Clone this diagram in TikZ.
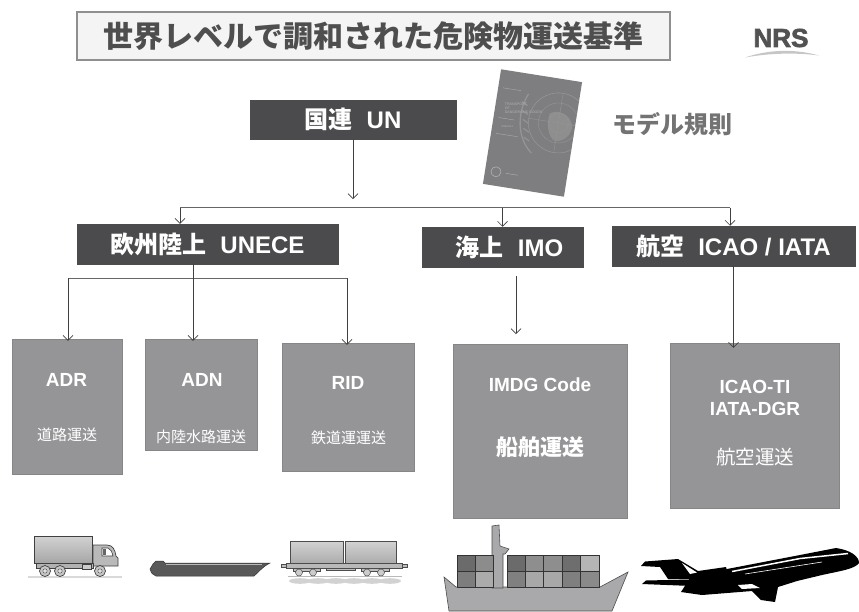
\documentclass[tikz,border=0pt]{standalone}
\usepackage{fontspec}
\setmainfont{Liberation Sans}
\newfontfamily\jp{Noto Sans CJK JP}
\newfontfamily\logofont{Liberation Sans}[BoldFeatures={FakeBold=2.5}]
\usetikzlibrary{arrows.meta,calc}

\definecolor{headfill}{HTML}{4B4B4D}
\definecolor{subfill}{HTML}{959598}
\definecolor{inkgray}{HTML}{4E4E4E}
\definecolor{titlefill}{HTML}{F4F4F4}
\definecolor{titleline}{HTML}{8F8F8F}
\definecolor{bookgray}{HTML}{7E7E80}
\definecolor{shipgray}{HTML}{A9A9AB}

\tikzset{
  headbox/.style={draw=black!70, fill=headfill, text=white, line width=0.5pt,
    font=\bfseries\fontsize{24}{24}\selectfont, inner sep=0pt},
  subbox/.style={fill=subfill, draw=subfill!90!black, line width=0.3pt, inner sep=0pt},
  code/.style={text=white, font=\bfseries\fontsize{19}{22}\selectfont, align=center},
  mode/.style={text=white, font=\jp\fontsize{15}{15}\selectfont},
  arr/.style={draw=black!75, line width=0.7pt, -{Straight Barb[length=5pt,width=10pt]}},
  bus/.style={draw=black!60, line width=1.1pt},
  faint/.style={draw=bookgray!82!white}
}

\begin{document}
\begin{tikzpicture}[x=1pt,y=-1pt]
\useasboundingbox (0,0) rectangle (859,611);

% ---- title and logo ----
\node[draw=titleline, fill=titlefill, line width=1.2pt, minimum width=593pt, minimum height=48pt,
      text=inkgray, font=\jp\bfseries\fontsize{30}{30}\selectfont] (title) at (373.5,36)
      {世界レベルで調和された危険物運送基準};
\node[text=black!68, font=\logofont\bfseries\fontsize{26}{26}\selectfont] (nrs) at (781,38) {NRS};
\fill[gray!45] (745,57.5) .. controls (770,49) and (796,49) .. (819,55.5)
      .. controls (796,52.5) and (770,53) .. (745,57.5) -- cycle;

% ---- UN model regulations booklet ----
\begin{scope}[shift={(532.5,133)}, rotate=-9]
  \fill[bookgray] (-41,-58) rectangle (41,58);
  \begin{scope}
    \clip (-41,-58) rectangle (41,58);
    \fill[bookgray!88!white] (14,-22) .. controls (22,-28) and (34,-24) .. (38,-14)
        .. controls (40,-4) and (30,6) .. (22,4) .. controls (16,0) and (12,-10) .. (14,-22) -- cycle;
    \draw[faint, line width=0.6pt] (24,-14) circle (30);
    \draw[faint, line width=0.4pt] (24,-14) circle (20) (24,-14) circle (10);
    \draw[faint, line width=0.4pt] (-6,-14) -- (54,-14) (24,-44) -- (24,16);
    \draw[faint, line width=1.3pt] (-10,-38) .. controls (-18,-20) and (-16,6) .. (2,20);
    \foreach \t in {0.15,0.3,0.45,0.6,0.75}
      \draw[faint, line width=1.1pt] ($(-10,-38)!\t!(2,20)$) ++(-7,0) -- ++(6,3);
  \end{scope}
  \node[text=bookgray!60!white, font=\fontsize{3.6}{3.8}\selectfont, align=left, anchor=north west]
     (booktitle) at (-36,-28) {TRANSPORT\\OF\\DANGEROUS GOODS};
  \node[text=bookgray!60!white, font=\fontsize{3}{3}\selectfont, anchor=north west] (bookvol) at (-36,-6) {Volume I};
  \draw[bookgray!65!white, line width=0.4pt] (-36,-40) -- (-18,-40) (-36,-10) -- (-20,-10) (-36,6) -- (-14,6);
  \draw[bookgray!60!white, line width=0.6pt] (-30,44) circle (5);
  \draw[bookgray!65!white, line width=0.5pt] (-20,44) -- (-8,44);
\end{scope}
\node[text=black!55, font=\jp\bfseries\fontsize{24}{24}\selectfont] (model) at (672.5,124) {モデル規則};

% ---- organisation boxes ----
\node[headbox, minimum width=206pt, minimum height=39pt] (un) at (353,119.5)
  {{\jp 国連}\hspace{14pt}UN};
\node[headbox, minimum width=261pt, minimum height=40pt] (unece) at (207.5,244)
  {{\jp 欧州陸上}\hspace{14pt}UNECE};
\node[headbox, minimum width=161pt, minimum height=40pt] (imo) at (502.5,247)
  {\hspace{14pt}{\jp 海上}\hspace{14pt}IMO};
\node[headbox, minimum width=243pt, minimum height=40pt] (icao) at (733.5,246)
  {{\jp 航空}\hspace{14pt}ICAO / IATA};

% ---- regulation boxes ----
\node[subbox, minimum width=110pt, minimum height=135pt] (adr) at (67,406.5) {};
\node[subbox, minimum width=112pt, minimum height=111pt] (adn) at (201,394.5) {};
\node[subbox, minimum width=132pt, minimum height=128pt] (rid) at (348,407) {};
\node[subbox, minimum width=174pt, minimum height=174pt] (imdg) at (540,431) {};
\node[subbox, minimum width=169pt, minimum height=165pt] (icaoti) at (754.5,425.5) {};

\node[code] (adrT) at (66.5,380) {ADR};
\node[mode] (adrS) at (67,435) {道路運送};
\node[code] (adnT) at (202,380) {ADN};
\node[mode] (adnS) at (201,437) {内陸水路運送};
\node[code] (ridT) at (348,383) {RID};
\node[mode] (ridS) at (348.5,438) {鉄道運運送};
\node[code] (imdgT) at (540,385) {IMDG Code};
\node[mode, font=\jp\bfseries\fontsize{22}{22}\selectfont] (imdgS) at (540,447) {船舶運送};
\node[code] (icaotiT) at (755,397.5) {ICAO-TI\\IATA-DGR};
\node[mode, font=\jp\fontsize{19.5}{19.5}\selectfont] (icaotiS) at (755,457) {航空運送};

% ---- connectors ----
\coordinate (unTip) at (un.south |- 0,199);
\coordinate (busL) at (180,207.5);
\coordinate (busR) at (730,207.5);
\coordinate (busImo) at (502.5,207.5);
\draw[arr] (un.south) -- (unTip);
\draw[bus] (busL) -- (busR);
\draw[arr] (busL) -- (unece.north -| busL);
\draw[arr] (busImo) -- (imo.north);
\draw[arr] (busR) -- (icao.north -| busR);

\coordinate (landL) at (68,278);
\coordinate (landR) at (347,278);
\coordinate (landMid) at (193,264);
\draw[bus, line width=0.9pt] (landL) -- (landR);
\draw[arr] (landL) -- ([yshift=-2pt]adr.north -| landL);
\draw[arr] (unece.south -| landMid) -- ([yshift=-2pt]adn.north -| landMid);
\draw[arr] (landR) -- ([yshift=-2pt]rid.north -| landR);

\coordinate (seaA) at (516,276);
\coordinate (seaB) at (516,334);
\draw[arr] (seaA) -- (seaB);
\draw[arr] (icao.south) -- ([yshift=-5pt]icaoti.north -| icao.south);

% ---- truck ----
\shade[top color=gray!35, bottom color=gray!70, draw=black!75, line width=0.7pt] (34,536) rectangle (92,563);
\filldraw[fill=gray!55, draw=black!75, line width=0.7pt] (93,566) -- (93,545) -- (107,545)
   .. controls (113,545) and (115,550) .. (116,556) -- (118,558) -- (118,566) -- cycle;
\filldraw[fill=white, draw=black!75, line width=0.6pt] (102,548) -- (108,548)
   .. controls (111,549) and (112,552) .. (113,556) -- (102,556) -- cycle;
\fill[black!60] (103,549) rectangle (106,555);
\filldraw[fill=gray!60, draw=black!75, line width=0.6pt] (36,563) rectangle (93,568);
\filldraw[fill=gray!40, draw=black!75, line width=0.5pt] (82,564) rectangle (91,569);
\fill[gray!30] (28,575.5) rectangle (122,578);
\foreach \wx in {45,60,100} {
  \filldraw[fill=gray!45, draw=black!75, line width=0.7pt] (\wx,571) circle (5.5);
  \filldraw[fill=gray!25, draw=black!70, line width=0.4pt] (\wx,571) circle (2.2);
}

% ---- barge ----
\filldraw[fill=black!65, draw=black!80, line width=0.5pt] (150,569) -- (153,564) -- (156,561)
   -- (163,561) -- (165,563) -- (270,563) .. controls (262,567) and (258,573) .. (254,576)
   -- (156,576) .. controls (152,574) and (150,572) .. (150,569) -- cycle;
\draw[gray!55, line width=0.5pt] (166,564.5) -- (262,564.5);

% ---- rail wagon ----
\foreach \i in {0,...,5}
  \fill[gray!35] (300+\i*18,581) ellipse (11 and 2.8);
\draw[gray!55, line width=1.5pt] (288,576.5) -- (402,576.5);
\shade[top color=gray!35, bottom color=gray!65, draw=black!70, line width=0.6pt] (290,541) rectangle (343,563);
\shade[top color=gray!35, bottom color=gray!65, draw=black!70, line width=0.6pt] (345,541) rectangle (396,563);
\filldraw[fill=gray!55, draw=black!70, line width=0.6pt] (286,563) rectangle (402,568);
\filldraw[fill=gray!50, draw=black!70, line width=0.4pt] (281,564) rectangle (286,567) (402,564) rectangle (407,567);
\filldraw[fill=gray!50, draw=black!70, line width=0.4pt] (293,568) rectangle (320,571.5) (361,568) rectangle (389,571.5) (326,568) rectangle (355,570.5);
\foreach \wx in {299,313,367,381}
  \filldraw[fill=gray!40, draw=black!70, line width=0.5pt] (\wx,572.5) circle (3.5);

% ---- container ship ----
\filldraw[fill=shipgray, draw=black!70, line width=0.6pt] (444,577) -- (456,587) -- (600,587)
   -- (628,572) -- (612,611) -- (449,611) -- cycle;
\filldraw[fill=shipgray, draw=black!70, line width=0.6pt] (492,588) -- (492,526) -- (499,525)
   -- (500,546) -- (509,549) -- (505,554) -- (503,554) -- (503,588) -- cycle;
\foreach \c [count=\k from 0] in {6B6B6B,8C8C8C} {
  \definecolor{cc}{HTML}{\c}
  \filldraw[fill=cc, draw=black!80, line width=0.7pt] (457+\k*18,555) rectangle ++(18,16);
}
\foreach \c [count=\k from 0] in {7D7D7D,ABABAB} {
  \definecolor{cc}{HTML}{\c}
  \filldraw[fill=cc, draw=black!80, line width=0.7pt] (457+\k*18,571) rectangle ++(18,16);
}
\foreach \c [count=\k from 0] in {6B6B6B,8E8E8E,8E8E8E,6E6E6E,B5B5B5} {
  \definecolor{cc}{HTML}{\c}
  \filldraw[fill=cc, draw=black!80, line width=0.7pt] (507+\k*18.4,555) rectangle ++(18.4,16);
}
\foreach \c [count=\k from 0] in {808080,A8A8A8,A8A8A8,7F7F7F,8A8A8A} {
  \definecolor{cc}{HTML}{\c}
  \filldraw[fill=cc, draw=black!80, line width=0.7pt] (507+\k*18.4,571) rectangle ++(18.4,16);
}

% ---- aircraft ----
\fill[black] (642,584) -- (646,580.5) -- (690,579.5) -- (692,586) -- cycle;
\fill[black] (668,579) -- (660,567) -- (641,566) -- (645,561.5) -- (678,559) -- (698,571)
   -- (726,567) -- (728,575) -- (690,579) -- cycle;
\fill[white] (682,563) -- (697,572.5) -- (690,574) -- cycle;
\fill[black] (690,578) -- (727,569) -- (800,555) -- (836,548)
   .. controls (850,550) and (859,556) .. (859,563) .. controls (855,569) and (840,571) .. (822,575)
   -- (797,581) -- (778,587) -- (775,602) -- (761,600) -- (752,591) -- (702,595) -- (681,592) -- cycle;
\draw[white, line width=1.5pt] (732,571.5) -- (800,558.5) -- (848,553.5);
\draw[white, line width=0.6pt] (745,574) -- (822,562);
\fill[white] (738,585) -- (752,584) -- (760,588) -- (742,589) -- cycle;
\end{tikzpicture}
\end{document}
